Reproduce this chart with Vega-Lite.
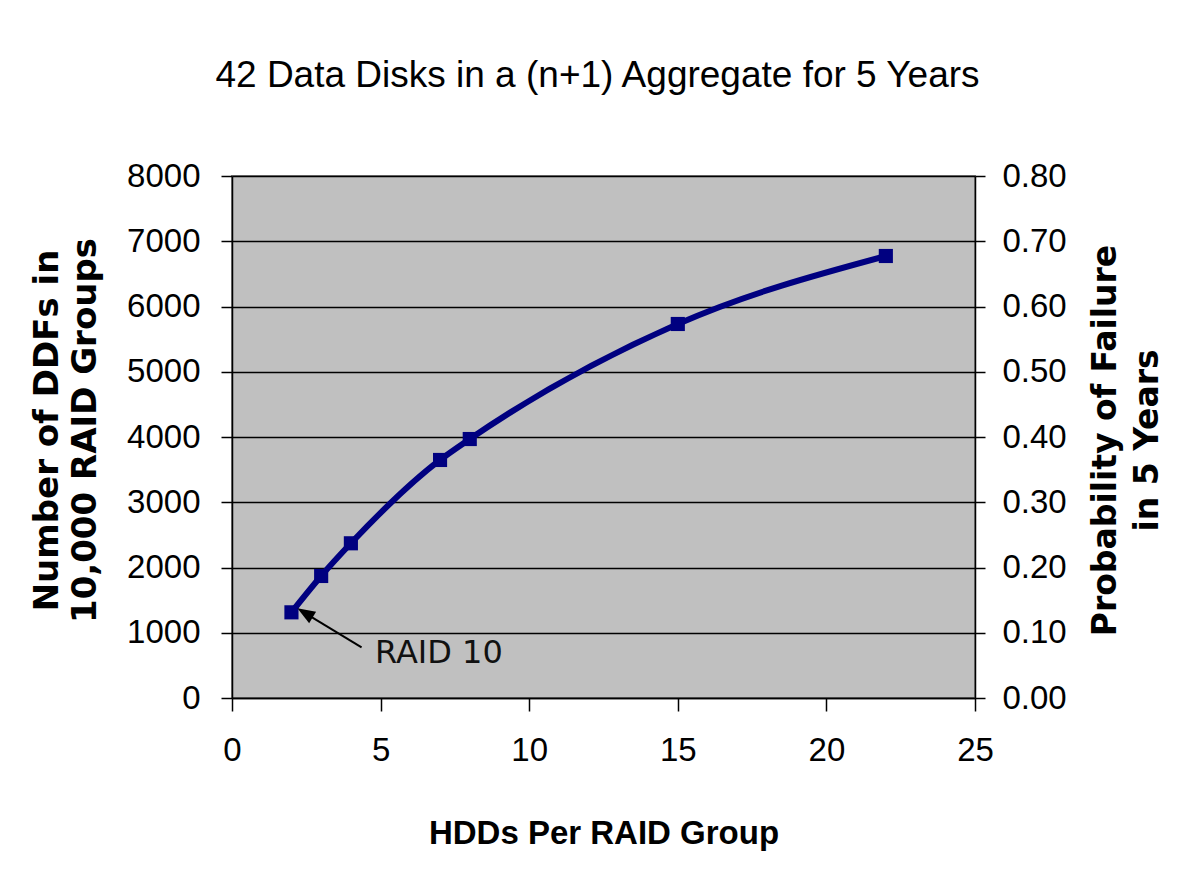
{
  "$schema": "https://vega.github.io/schema/vega-lite/v6.json",
  "width": 743,
  "height": 522,
  "autosize": {"type": "none"},
  "padding": {"left": 232, "top": 176, "right": 217, "bottom": 182},
  "background": "white",
  "title": {
    "text": "42 Data Disks in a (n+1) Aggregate for 5 Years",
    "font": "Liberation Sans",
    "fontSize": 37,
    "fontWeight": "normal",
    "color": "black",
    "anchor": "middle",
    "baseline": "alphabetic",
    "offset": 36,
    "dx": -6
  },
  "config": {
    "view": {"fill": "#C0C0C0", "stroke": "#808080", "strokeWidth": 2},
    "axis": {
      "labelFont": "Liberation Sans",
      "labelFontSize": 33,
      "labelColor": "black",
      "domainColor": "black",
      "domainWidth": 1.5,
      "tickColor": "black",
      "tickWidth": 1.5,
      "titleColor": "black",
      "labelOverlap": false,
      "labelFlush": false
    }
  },
  "datasets": {
    "main": [
      {"hdds": 2, "ddfs": 1313, "prob": 0.1313},
      {"hdds": 3, "ddfs": 1870, "prob": 0.187},
      {"hdds": 4, "ddfs": 2371, "prob": 0.2371},
      {"hdds": 7, "ddfs": 3648, "prob": 0.3648},
      {"hdds": 8, "ddfs": 3969, "prob": 0.3969},
      {"hdds": 15, "ddfs": 5732, "prob": 0.5732},
      {"hdds": 22, "ddfs": 6774, "prob": 0.6774}
    ],
    "arrow": [
      {"x1": 4.36, "y1": 777, "x2": 2.5, "y2": 1290}
    ],
    "tip": [
      {"x": 2.2, "y": 1375}
    ],
    "note": [
      {"x": 4.81, "y": 541, "label": "RAID 10"}
    ]
  },
  "layer": [
    {
      "data": {"name": "main"},
      "mark": {
        "type": "line",
        "interpolate": "monotone",
        "color": "#000080",
        "strokeWidth": 6,
        "point": {"shape": "square", "size": 200, "filled": true, "color": "#000080", "opacity": 1}
      },
      "encoding": {
        "x": {
          "field": "hdds",
          "type": "quantitative",
          "scale": {"domain": [0, 25], "nice": false, "zero": true},
          "axis": {
            "orient": "bottom",
            "values": [0, 5, 10, 15, 20, 25],
            "grid": false,
            "tickSize": 13,
            "labelPadding": 23,
            "title": "HDDs Per RAID Group",
            "titleFont": "Liberation Sans",
            "titleFontWeight": "bold",
            "titleFontSize": 33,
            "titleBaseline": "alphabetic",
            "titleY": 145
          }
        },
        "y": {
          "field": "ddfs",
          "type": "quantitative",
          "scale": {"domain": [0, 8000], "nice": false},
          "axis": {
            "orient": "left",
            "values": [0, 1000, 2000, 3000, 4000, 5000, 6000, 7000, 8000],
            "format": "d",
            "grid": true,
            "gridColor": "black",
            "gridWidth": 1.5,
            "gridOpacity": 1,
            "tickSize": 11,
            "labelPadding": 21,
            "title": ["Number of DDFs in", "10,000 RAID Groups"],
            "titleFont": "DejaVu Sans",
            "titleFontWeight": "bold",
            "titleFontSize": 34,
            "titleLineHeight": 38,
            "titleAngle": 270,
            "titleAlign": "center",
            "titleBaseline": "middle",
            "titleX": -185,
            "titleY": 254
          }
        }
      }
    },
    {
      "data": {"name": "main"},
      "mark": {"type": "point", "opacity": 0},
      "encoding": {
        "x": {"field": "hdds", "type": "quantitative", "scale": {"domain": [0, 25], "nice": false}},
        "y": {
          "field": "prob",
          "type": "quantitative",
          "scale": {"domain": [0, 0.8], "nice": false},
          "axis": {
            "orient": "right",
            "values": [0, 0.1, 0.2, 0.3, 0.4, 0.5, 0.6, 0.7, 0.8],
            "format": ".2f",
            "grid": false,
            "tickSize": 10,
            "labelPadding": 17,
            "title": ["Probability of Failure", "in 5 Years"],
            "titleFont": "DejaVu Sans",
            "titleFontWeight": "bold",
            "titleFontSize": 33,
            "titleLineHeight": 42,
            "titleAngle": 270,
            "titleAlign": "center",
            "titleBaseline": "middle",
            "titleX": 130,
            "titleY": 264
          }
        }
      }
    },
    {
      "data": {"name": "arrow"},
      "mark": {"type": "rule", "color": "black", "strokeWidth": 2},
      "encoding": {
        "x": {"field": "x1", "type": "quantitative", "scale": {"domain": [0, 25], "nice": false}},
        "y": {"field": "y1", "type": "quantitative", "scale": {"domain": [0, 8000], "nice": false}, "axis": null},
        "x2": {"field": "x2"},
        "y2": {"field": "y2"}
      }
    },
    {
      "data": {"name": "tip"},
      "mark": {
        "type": "point",
        "shape": "M0,0L-0.9,2.4L0.9,2.4Z",
        "size": 220,
        "filled": true,
        "color": "black",
        "opacity": 1,
        "angle": -58.8
      },
      "encoding": {
        "x": {"field": "x", "type": "quantitative", "scale": {"domain": [0, 25], "nice": false}},
        "y": {"field": "y", "type": "quantitative", "scale": {"domain": [0, 8000], "nice": false}, "axis": null}
      }
    },
    {
      "data": {"name": "note"},
      "mark": {
        "type": "text",
        "font": "DejaVu Sans",
        "fontSize": 32,
        "color": "#111111",
        "align": "left",
        "baseline": "alphabetic"
      },
      "encoding": {
        "x": {"field": "x", "type": "quantitative", "scale": {"domain": [0, 25], "nice": false}},
        "y": {"field": "y", "type": "quantitative", "scale": {"domain": [0, 8000], "nice": false}, "axis": null},
        "text": {"field": "label"}
      }
    }
  ],
  "resolve": {"scale": {"y": "independent"}}
}
